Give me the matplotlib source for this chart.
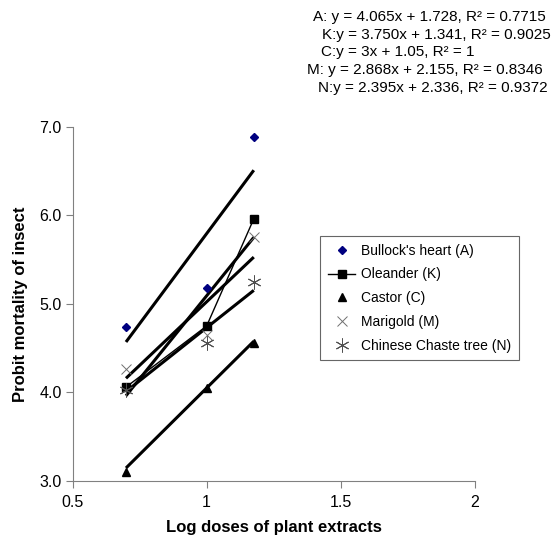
import numpy as np
import matplotlib
matplotlib.use('Agg')
import matplotlib.pyplot as plt

plt.rcParams['font.family'] = ['Liberation Sans', 'DejaVu Sans']

# log doses
log_dose = [0.699, 1.0, 1.176]

# probit mortality
bullock = [4.74, 5.18, 6.88]
oleander = [4.06, 4.75, 5.96]
castor = [3.10, 4.05, 4.56]
marigold = [4.26, 4.65, 5.75]
chaste = [4.03, 4.56, 5.25]

# trendline coefficients (slope, intercept)
fits = {
    'A': (4.065, 1.728),
    'K': (3.750, 1.341),
    'C': (3.0, 1.05),
    'M': (2.868, 2.155),
    'N': (2.395, 2.336),
}

eq_texts = [
    'A: y = 4.065x + 1.728, R² = 0.7715',
    'K:y = 3.750x + 1.341, R² = 0.9025',
    'C:y = 3x + 1.05, R² = 1',
    'M: y = 2.868x + 2.155, R² = 0.8346',
    'N:y = 2.395x + 2.336, R² = 0.9372',
]
eq_x = [313, 322, 321, 307, 318]
eq_y = [17, 35, 52, 70, 88]

fig = plt.figure(figsize=(5.59, 5.46), dpi=100)
ax = fig.add_axes([0.130, 0.119, 0.719, 0.649])

x = np.array(log_dose)
for k in ['A', 'K', 'C', 'M', 'N']:
    m, b = fits[k]
    ax.plot([x[0], x[-1]], [m * x[0] + b, m * x[-1] + b], color='black', lw=2.2,
            solid_capstyle='butt', zorder=2)

ax.plot(x, bullock, 'D', color='#000080', ms=4, ls='none', label="Bullock's heart (A)", zorder=3)
ax.plot(x, oleander, 's-', color='black', ms=6, lw=1, label='Oleander (K)', zorder=3)
ax.plot(x, castor, '^', color='black', ms=6, ls='none', label='Castor (C)', zorder=3)
ax.plot(x, marigold, 'x', color='#707070', ms=7, mew=0.7, ls='none', label='Marigold (M)', zorder=3)
ax.plot(x, chaste, marker=(6, 2, 0), color='#505050', ms=10, mew=0.7, ls='none',
        label='Chinese Chaste tree (N)', zorder=3)

ax.set_xlim(0.5, 2)
ax.set_ylim(3, 7)
ax.set_xticks([0.5, 1, 1.5, 2])
ax.set_xticklabels(['0.5', '1', '1.5', '2'])
ax.set_yticks([3, 4, 5, 6, 7])
ax.set_yticklabels(['3.0', '4.0', '5.0', '6.0', '7.0'])
for s in ['top', 'right']:
    ax.spines[s].set_visible(False)
for s in ['left', 'bottom']:
    ax.spines[s].set_color('#808080')
ax.tick_params(direction='out', length=5, color='#808080', labelsize=11.5, labelcolor='black')
ax.tick_params(axis='x', pad=5)
ax.tick_params(axis='y', pad=3)

ax.set_xlabel('Log doses of plant extracts', fontsize=12, fontweight='bold', labelpad=7)
ax.set_ylabel('Probit mortality of insect', fontsize=12, fontweight='bold', labelpad=8)

leg = ax.legend(loc='upper left', bbox_to_anchor=(320 / 559, 1 - 236 / 546),
                bbox_transform=fig.transFigure, frameon=True, fancybox=False,
                fontsize=10, borderpad=0.55, labelspacing=0.7, handlelength=2.0,
                handletextpad=0.4, borderaxespad=0)
leg.get_frame().set_edgecolor('#404040')
leg.get_frame().set_linewidth(0.8)

for t, px, py in zip(eq_texts, eq_x, eq_y):
    fig.text(px / 559, 1 - py / 546, t, fontsize=11, va='center', ha='left')

fig.savefig('out.png', dpi=100)
